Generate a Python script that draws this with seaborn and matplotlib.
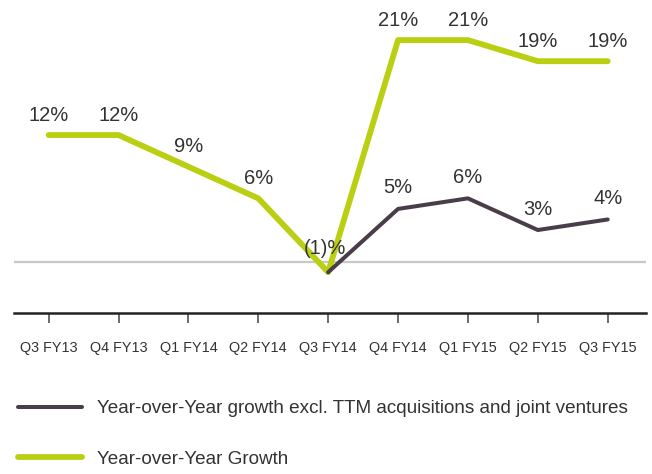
import seaborn as sns
import matplotlib.pyplot as plt
import numpy as np
import pandas as pd

quarters = ['Q3 FY13', 'Q4 FY13', 'Q1 FY14', 'Q2 FY14', 'Q3 FY14',
            'Q4 FY14', 'Q1 FY15', 'Q2 FY15', 'Q3 FY15']
yoy_growth = [12, 12, 9, 6, -1, 21, 21, 19, 19]
yoy_excl = [np.nan, np.nan, np.nan, np.nan, -1, 5, 6, 3, 4]

GREEN = '#bacf12'
DARK = '#493d4a'
TEXT = '#333333'

sns.set_theme(style='white')
plt.rcParams['font.family'] = ['Liberation Sans', 'DejaVu Sans']

df = pd.DataFrame({'x': np.arange(len(quarters)), 'growth': yoy_growth, 'excl': yoy_excl})

fig = plt.figure(figsize=(6.52, 4.74), dpi=100)
ax = fig.add_axes([0.021, 0.34, 0.97, 0.66])

# zero reference line
ax.axhline(0, color='#c8c8c8', lw=1.6, zorder=1)

sns.lineplot(data=df, x='x', y='growth', ax=ax, color=GREEN, lw=4.2,
             label='Year-over-Year Growth', zorder=3)
sns.lineplot(data=df.dropna(), x='x', y='excl', ax=ax, color=DARK, lw=2.9,
             label='Year-over-Year growth excl. TTM acquisitions and joint ventures', zorder=4)


def fmt(v):
    return f'({abs(int(v))})%' if v < 0 else f'{int(v)}%'


for i, v in enumerate(yoy_growth):
    if i == 4:
        continue
    ax.annotate(fmt(v), (i, v), xytext=(0, 20), textcoords='offset pixels',
                ha='center', va='center', fontsize=14.5, color=TEXT)
for i, v in enumerate(yoy_excl):
    if np.isnan(v):
        continue
    dy = 24 if i == 4 else 21
    ax.annotate(fmt(v), (i, v), xytext=(-3 if i == 4 else 0, dy), textcoords='offset pixels',
                ha='center', va='center', fontsize=14.5, color=TEXT)

ax.set_xlim(-0.5, 8.55)
ax.set_ylim(-4.85, 24.8)
ax.set_xticks(df['x'])
ax.set_xticklabels(quarters, fontsize=10.4, color=TEXT)
ax.set_yticks([])
ax.set_xlabel('')
ax.set_ylabel('')
for s in ['top', 'left', 'right']:
    ax.spines[s].set_visible(False)
ax.spines['bottom'].set_color('#222222')
ax.spines['bottom'].set_linewidth(1.8)
ax.tick_params(axis='x', bottom=True, direction='out', length=7, width=1.1,
               color='#444444', pad=13)

handles, labels = ax.get_legend_handles_labels()
ax.get_legend().remove()
fig.legend(handles[::-1], labels[::-1], loc='upper left', bbox_to_anchor=(0.027, 0.156),
           frameon=False, fontsize=13.6, labelcolor=TEXT, handlelength=3.4,
           handletextpad=0.8, labelspacing=1.75, borderpad=0, borderaxespad=0)

fig.savefig('out.png', dpi=100)
